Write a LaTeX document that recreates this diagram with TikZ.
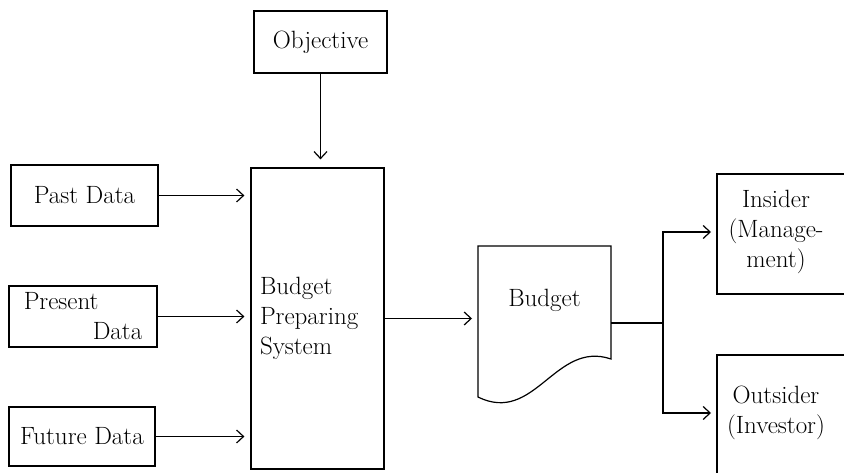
\documentclass[tikz,border=0pt]{standalone}
\usetikzlibrary{calc, positioning, arrows.meta}

\begin{document}
\begin{tikzpicture}[x=1pt, y=-1pt, line width=1.2pt,
  font=\fontsize{25}{30}\selectfont,
  box/.style={draw, line width=1.2pt},
  sidetxt/.style={text width=118pt, align=center, inner xsep=0pt, outer sep=0pt},
  arr/.style={-{Straight Barb[length=7pt,width=13pt]}, shorten >=6pt}]
\useasboundingbox (0,0) rectangle (844,473);
\clip (0,0) rectangle (844,473);
\node[box, minimum width=133pt, minimum height=62pt] (obj) at (320.5,42) {Objective};
\node[box, minimum width=133pt, minimum height=301pt, text width=115pt, align=left, inner xsep=9pt] (sys) at (317.5,318.5) {Budget\\Preparing\\System};
\node[box, minimum width=147pt, minimum height=61pt] (past) at (84.5,195.5) {Past Data};
\node[box, minimum width=148pt, minimum height=61pt, align=left] (pres) at (83,316.5) {Present\\\hspace*{69pt}Data};
\node[box, minimum width=146pt, minimum height=59pt] (fut) at (82,436.5) {Future Data};
\node[minimum width=133pt, minimum height=108pt, outer sep=0pt] (bud) at (544.5,300) {Budget};
\node[sidetxt] (ins) at (776,232) {Insider\\(Manage-\\ment)};
\node[sidetxt] (out) at (776,413) {Outsider\\(Investor)};
\coordinate (split) at (663,323);
% document shape and the two cut-off boxes
\draw[box] (bud.north west) -- (bud.north east) -- ++(0,113)
  .. controls +(-56,-19) and +(57,28) .. ++(-133,38) -- cycle;
\draw[box] ($(ins.west)+(0,-58)$) rectangle ++(200,120);
\draw[box] ($(out.west)+(0,-58)$) rectangle ++(200,200);
% connectors
\draw[arr, shorten >=8pt] (obj.south) -- (obj.south |- sys.north);
\draw[arr] (past.east) -- (past.east -| sys.west);
\draw[arr] (pres.east) -- (pres.east -| sys.west);
\draw[arr] (fut.east) -- (fut.east -| sys.west);
\draw[arr] (sys.east) -- (sys.east -| bud.west);
\draw (bud.east |- split) -- (split);
\draw[arr] (split) |- (ins.west);
\draw[arr] (split) |- (out.west);
\end{tikzpicture}
\end{document}
